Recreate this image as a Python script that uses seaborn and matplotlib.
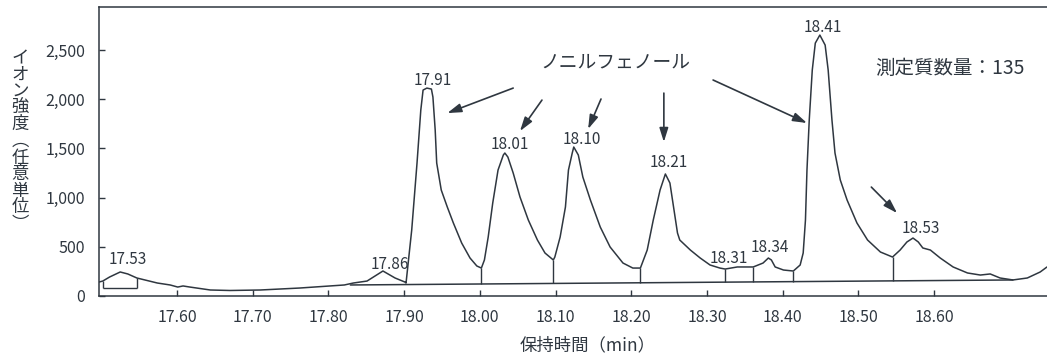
import matplotlib.pyplot as plt
import numpy as np
import pandas as pd
import seaborn as sns

# chromatogram trace (min, arbitrary units)
retention_time = [17.497, 17.502, 17.511, 17.525, 17.535, 17.547, 17.574, 17.591,
                  17.601, 17.608, 17.617, 17.644, 17.670, 17.710, 17.762, 17.821,
                  17.833, 17.851, 17.872, 17.888, 17.901,
                  17.9025, 17.910, 17.917, 17.922, 17.925, 17.930, 17.936, 17.938,
                  17.941, 17.943, 17.949, 17.957, 17.965, 17.976, 17.987, 17.996,
                  18.002,
                  18.006, 18.011, 18.017, 18.024, 18.031, 18.033, 18.037, 18.044,
                  18.053, 18.064, 18.076, 18.086, 18.097,
                  18.099, 18.106, 18.113, 18.117, 18.122, 18.124, 18.130, 18.136,
                  18.146, 18.159, 18.172, 18.189, 18.202, 18.212,
                  18.221, 18.229, 18.238, 18.245, 18.251, 18.255, 18.261, 18.264,
                  18.278, 18.291, 18.304, 18.317, 18.324,
                  18.340, 18.361, 18.374, 18.381, 18.385, 18.390, 18.401, 18.414,
                  18.423, 18.427, 18.430, 18.432, 18.435, 18.439, 18.443, 18.449,
                  18.456, 18.460, 18.465, 18.469, 18.476, 18.485, 18.498, 18.512,
                  18.529, 18.545,
                  18.555, 18.564, 18.572, 18.579, 18.585, 18.595, 18.608, 18.625,
                  18.644, 18.661, 18.674, 18.687, 18.704, 18.723, 18.740, 18.749]
intensity = [142, 152, 193, 244, 224, 183, 132, 112,
             91, 102, 91, 61, 56, 61, 81, 112,
             132, 152, 254, 183, 142,
             132, 671, 1351, 1890, 2093, 2113, 2103, 2022,
             1687, 1351, 1077, 904, 742, 538, 386, 305,
             284,
             366, 599, 945, 1280, 1433, 1453, 1412, 1250,
             1006, 772, 569, 437, 366,
             396, 599, 904, 1280, 1453, 1514, 1433, 1209,
             975, 701, 498, 335, 284, 284,
             467, 772, 1077, 1240, 1148, 945, 640, 569,
             467, 386, 315, 284, 274,
             295, 295, 335, 386, 366, 295, 264, 254,
             315, 437, 772, 1280, 1788, 2296, 2570, 2652,
             2550, 2296, 1788, 1453, 1179, 975, 742, 569,
             447, 396,
             467, 549, 589, 549, 488, 467, 386, 295,
             234, 213, 224, 183, 163, 183, 244, 295]

baseline_time = [17.829, 18.704]
baseline_level = [112, 163]
drop_times = [18.002, 18.097, 18.212, 18.324, 18.361, 18.414, 18.545]

box_time = [17.502, 17.547]
box_level = 81

peak_labels = ['17.53', '17.86', '17.91', '18.01', '18.10', '18.21',
               '18.31', '18.34', '18.41', '18.53']
label_time = [17.535, 17.881, 17.938, 18.040, 18.134, 18.250,
              18.329, 18.383, 18.453, 18.582]
label_level = [376, 325, 2195, 1544, 1595, 1361, 386, 488, 2733, 681]

# arrows pointing from the compound name to the isomer peaks
arrow_from = [(18.044, 2113), (18.082, 1991), (18.160, 2002), (18.243, 2062),
              (18.308, 2195), (18.517, 1107)]
arrow_to = [(17.957, 1859), (18.053, 1676), (18.143, 1697), (18.243, 1565),
            (18.432, 1758), (18.551, 843)]

x_ticks = [17.60, 17.70, 17.80, 17.90, 18.00, 18.10, 18.20, 18.30, 18.40, 18.50, 18.60]
y_ticks = [0, 500, 1000, 1500, 2000, 2500]

sns.set_theme(style='ticks')
plt.rcParams['font.family'] = ['Noto Sans CJK JP', 'DejaVu Sans']

ink = '#2f3740'
fig = plt.figure(figsize=(10.47, 3.58), dpi=100)
ax = fig.add_axes([99 / 1047, 1 - 296 / 358, 1 - 99 / 1047, 289 / 358])

trace = pd.DataFrame({'rt': retention_time, 'intensity': intensity})
sns.lineplot(data=trace, x='rt', y='intensity', color=ink, lw=1.1,
             estimator=None, ax=ax)

# integration baseline and drop lines
ax.plot(baseline_time, baseline_level, color=ink, lw=1.1)
ax.vlines(drop_times,
          np.interp(drop_times, baseline_time, baseline_level),
          np.interp(drop_times, retention_time, intensity),
          color=ink, lw=1.0)
ax.vlines(box_time, box_level, np.interp(box_time, retention_time, intensity),
          color=ink, lw=1.0)
ax.hlines(box_level, box_time[0], box_time[1], color=ink, lw=1.0)

for lab, t, v in zip(peak_labels, label_time, label_level):
    ax.text(t, v, lab, ha='center', va='center', fontsize=11, color=ink)

for start, end in zip(arrow_from, arrow_to):
    ax.annotate('', xy=end, xytext=start,
                arrowprops=dict(arrowstyle='-|>,head_length=0.7,head_width=0.22',
                                color=ink, lw=1.2, shrinkA=0, shrinkB=0))

ax.text(18.179, 2377, 'ノニルフェノール', ha='center', va='center',
        fontsize=13.5, color=ink)
ax.text(18.621, 2316, '測定質数量：135', ha='center', va='center',
        fontsize=14, color=ink)

ax.set_xlim(17.497, 18.749)
ax.set_ylim(0, 2937)
ax.set_xticks(x_ticks)
ax.set_xticklabels([f'{t:.2f}' for t in x_ticks])
ax.set_yticks(y_ticks)
ax.set_yticklabels([f'{v:,}' for v in y_ticks])
ax.tick_params(direction='in', length=4, width=1.0, color=ink,
               labelcolor=ink, labelsize=11.5)
ax.tick_params(axis='x', pad=9)
ax.tick_params(axis='y', pad=10)
for side in ['left', 'bottom', 'top']:
    ax.spines[side].set_color(ink)
    ax.spines[side].set_linewidth(1.1)
ax.spines['right'].set_visible(False)

ax.set_xlabel('保持時間（min）', fontsize=12.5, color=ink, va='center')
ax.xaxis.set_label_coords(0.515, -0.17)
ax.set_ylabel('')
fig.text(20 / 1047, 1 - 141 / 358, '\n'.join('イオン強度︵任意単位︶'),
         ha='center', va='center', fontsize=12.5, color=ink, linespacing=0.9)

fig.savefig('out.png', dpi=100)
